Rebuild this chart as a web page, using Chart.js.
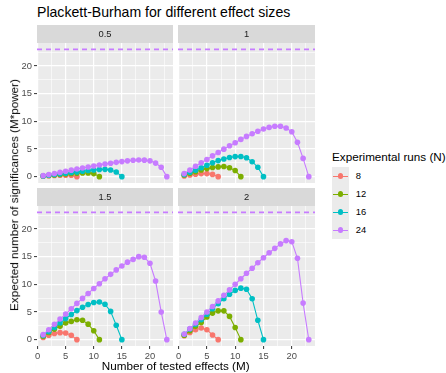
<!DOCTYPE html>
<html>
<head>
<meta charset="utf-8">
<title>Plackett-Burham for different effect sizes</title>
<script src="https://cdn.jsdelivr.net/npm/chart.js@4.4.0/dist/chart.umd.min.js"></script>
<style>
    html, body { margin: 0; padding: 0; background: #fff; }
    body {
        width: 446px; height: 373px; position: relative; overflow: hidden;
        font-family: "Liberation Sans", Arial, sans-serif;
    }
    canvas { position: absolute; }
    #panel-05  { left: 0;     top: 25px;  }
    #panel-1   { left: 173px; top: 25px;  }
    #panel-15  { left: 0;     top: 188px; }
    #panel-2   { left: 173px; top: 188px; }
    .plot-title {
        position: absolute; left: 37px; top: 5.3px;
        font-size: 14.1px; line-height: 1; color: #000; white-space: nowrap;
    }
    .x-title {
        position: absolute; left: 175.7px; top: 360.3px; transform: translateX(-50%);
        font-size: 11.7px; line-height: 1; color: #000; white-space: nowrap;
    }
    .y-title {
        position: absolute; left: 13.5px; top: 194.5px;
        transform: translate(-50%, -50%) rotate(-90deg);
        font-size: 11.7px; line-height: 1; color: #000; white-space: nowrap;
    }
    .legend { position: absolute; left: 332px; top: 151.2px; }
    .legend-title { font-size: 11.7px; line-height: 1; color: #000; white-space: nowrap; height: 16px; }
    .legend-item { display: flex; align-items: center; height: 18px; }
    .legend-key { position: relative; width: 17.3px; height: 18px; background: #EBEBEB; }
    .legend-key .kline { position: absolute; left: 1px; right: 1px; top: 8.5px; height: 1.1px; }
    .legend-key .kdot { position: absolute; left: 5.9px; top: 6.2px; width: 5.6px; height: 5.6px; border-radius: 50%; }
    .legend-label { margin-left: 6.5px; font-size: 9.4px; line-height: 1; color: #000; }
</style>
</head>
<body>
<div class="plot-title">Plackett-Burham for different effect sizes</div>
<canvas id="panel-05" width="173" height="158"></canvas>
<canvas id="panel-1" width="142" height="158"></canvas>
<canvas id="panel-15" width="173" height="172"></canvas>
<canvas id="panel-2" width="142" height="172"></canvas>
<div class="y-title">Expected number of significances (M*power)</div>
<div class="x-title">Number of tested effects (M)</div>
<div class="legend" id="legend"></div>

<script>
// ค่าที่อ่านจากภาพ: จำนวนผลที่ทดสอบ (M) และค่าคาดหมาย M*power
const effectSizes = ["0.5", "1", "1.5", "2"];
const runSizes = [8, 12, 16, 24];
const runColors = ["#F8766D", "#7CAE00", "#00BFC4", "#C77CFF"];

const testedFor8 = [1, 2, 3, 4, 5, 6, 7];
const testedFor12 = [1, 2, 3, 4, 5, 6, 7, 8, 9, 10, 11];
const testedFor16 = [1, 2, 3, 4, 5, 6, 7, 8, 9, 10, 11, 12, 13, 14, 15];
const testedFor24 = [1, 2, 3, 4, 5, 6, 7, 8, 9, 10, 11, 12, 13, 14, 15, 16, 17, 18, 19, 20, 21, 22, 23];

// effect size 0.5
const sig05n8 = [0.08, 0.15, 0.2, 0.25, 0.27, 0.24, 0];
const sig05n12 = [0.1, 0.2, 0.3, 0.4, 0.48, 0.56, 0.62, 0.66, 0.66, 0.55, 0];
const sig05n16 = [0.12, 0.25, 0.38, 0.5, 0.62, 0.74, 0.86, 0.98, 1.1, 1.2, 1.3, 1.32, 1.2, 0.85, 0];
const sig05n24 = [0.18, 0.37, 0.57, 0.77, 0.97, 1.17, 1.37, 1.56, 1.75, 1.93, 2.1, 2.27, 2.43, 2.58, 2.72, 2.85, 2.95, 3.0, 2.98, 2.85, 2.45, 1.7, 0];

// effect size 1
const sig1n8 = [0.12, 0.3, 0.45, 0.55, 0.55, 0.4, 0];
const sig1n12 = [0.3, 0.6, 0.9, 1.2, 1.45, 1.64, 1.76, 1.82, 1.6, 1.1, 0];
const sig1n16 = [0.4, 0.8, 1.15, 1.6, 2.05, 2.5, 2.9, 3.2, 3.45, 3.62, 3.64, 3.4, 2.7, 1.7, 0];
const sig1n24 = [0.55, 1.2, 1.88, 2.5, 3.1, 3.76, 4.36, 4.97, 5.58, 6.12, 6.73, 7.27, 7.76, 8.2, 8.6, 8.9, 9.1, 9.1, 8.8, 8.1, 6.2, 3.3, 0];

// effect size 1.5
const sig15n8 = [0.4, 0.8, 1.1, 1.26, 1.2, 0.8, 0];
const sig15n12 = [0.6, 1.3, 1.9, 2.4, 3.0, 3.3, 3.6, 3.5, 2.8, 1.6, 0];
const sig15n16 = [0.75, 1.45, 2.2, 3.0, 3.8, 4.55, 5.25, 5.85, 6.35, 6.7, 6.8, 6.4, 5.1, 2.6, 0];
const sig15n24 = [0.9, 1.8, 2.76, 3.72, 4.62, 5.58, 6.55, 7.45, 8.35, 9.25, 10.1, 11.0, 11.8, 12.6, 13.3, 14.0, 14.5, 15.0, 14.9, 13.8, 10.6, 5.0, 0];

// effect size 2
const sig2n8 = [0.7, 1.3, 1.8, 2.1, 1.8, 0.84, 0];
const sig2n12 = [0.8, 1.6, 2.4, 3.1, 4.1, 4.8, 5.2, 5.2, 4.2, 2.2, 0];
const sig2n16 = [0.96, 1.9, 2.76, 3.6, 4.6, 5.6, 6.5, 7.4, 8.2, 8.9, 9.3, 9.1, 7.4, 3.5, 0];
const sig2n24 = [1.0, 2.0, 3.0, 4.0, 5.0, 6.0, 7.0, 8.0, 9.0, 10.0, 11.0, 12.0, 12.9, 13.9, 14.8, 15.7, 16.5, 17.3, 17.9, 17.7, 14.7, 6.6, 0];

// เส้นประอ้างอิง (M สูงสุด)
const refLineValue = 23;

// แกน
const xLimits = [-0.1, 24.1];
const yLimits = [-1.15, 24.15];
const xMajorTicks = [0, 5, 10, 15, 20];
const xMinorTicks = [2.5, 7.5, 12.5, 17.5, 22.5];
const yMajorTicks = [0, 5, 10, 15, 20];
const yMinorTicks = [2.5, 7.5, 12.5, 17.5, 22.5];

const testedByRun = [testedFor8, testedFor12, testedFor16, testedFor24];
const FONT = '"Liberation Sans", Arial, sans-serif';

document.addEventListener("DOMContentLoaded", () => {
    buildPanel("panel-05", effectSizes[0], [sig05n8, sig05n12, sig05n16, sig05n24], true, false);
    buildPanel("panel-1", effectSizes[1], [sig1n8, sig1n12, sig1n16, sig1n24], false, false);
    buildPanel("panel-15", effectSizes[2], [sig15n8, sig15n12, sig15n16, sig15n24], true, true);
    buildPanel("panel-2", effectSizes[3], [sig2n8, sig2n12, sig2n16, sig2n24], false, true);
    buildLegend();
});

// พื้นหลังแผง, แถบหัว facet และเส้นประ
const panelDecor = {
    id: "panelDecor",
    beforeDraw(chart, args, opts) {
        const { ctx, chartArea: a } = chart;
        ctx.save();
        ctx.fillStyle = "#EBEBEB";
        ctx.fillRect(a.left, a.top, a.right - a.left, a.bottom - a.top);
        ctx.fillStyle = "#D9D9D9";
        ctx.fillRect(a.left, 0, a.right - a.left, a.top);
        ctx.fillStyle = "#1A1A1A";
        ctx.font = "9.4px " + FONT;
        ctx.textAlign = "center";
        ctx.textBaseline = "middle";
        ctx.fillText(opts.text, (a.left + a.right) / 2, a.top / 2 + 0.5);
        ctx.restore();
    },
    beforeDatasetsDraw(chart, args, opts) {
        const { ctx, chartArea: a, scales } = chart;
        const py = scales.y.getPixelForValue(opts.refValue);
        ctx.save();
        ctx.strokeStyle = "#C77CFF";
        ctx.lineWidth = 1.6;
        ctx.setLineDash([5, 4]);
        ctx.beginPath();
        ctx.moveTo(a.left, py);
        ctx.lineTo(a.right, py);
        ctx.stroke();
        ctx.restore();
    }
};

function buildPanel(canvasId, label, seriesValues, showY, showX) {
    const datasets = runSizes.map((n, i) => ({
        label: String(n),
        data: testedByRun[i].map((m, j) => ({ x: m, y: seriesValues[i][j] })),
        borderColor: runColors[i],
        backgroundColor: runColors[i],
        borderWidth: 1.1,
        pointRadius: 2.8,
        pointBorderWidth: 0,
        pointHoverRadius: 2.8,
        tension: 0,
        order: runSizes.length - i
    }));

    const isMajorX = v => xMajorTicks.includes(v);
    const isMajorY = v => yMajorTicks.includes(v);

    new Chart(document.getElementById(canvasId), {
        type: "line",
        data: { datasets },
        options: {
            responsive: false,
            animation: false,
            events: [],
            layout: {
                autoPadding: false,
                padding: { top: 18, left: showY ? 0 : 5, right: 0, bottom: 0 }
            },
            plugins: {
                legend: { display: false },
                tooltip: { enabled: false },
                panelDecor: { text: label, refValue: refLineValue }
            },
            scales: {
                x: {
                    type: "linear",
                    bounds: "data",
                    min: xLimits[0],
                    max: xLimits[1],
                    afterBuildTicks: s => { s.ticks = xMajorTicks.concat(xMinorTicks).sort((a, b) => a - b).map(v => ({ value: v })); },
                    afterFit: s => { s.height = showX ? 14 : 0; s.paddingLeft = 0; s.paddingRight = 0; },
                    border: { display: false },
                    grid: {
                        color: "#FFFFFF",
                        lineWidth: ctx => isMajorX(ctx.tick.value) ? 1.2 : 0.6,
                        drawTicks: showX,
                        tickLength: 3,
                        tickWidth: 1,
                        tickColor: ctx => isMajorX(ctx.tick.value) ? "#333333" : "rgba(0,0,0,0)"
                    },
                    ticks: {
                        display: showX,
                        autoSkip: false,
                        maxRotation: 0,
                        padding: 2,
                        color: "#4D4D4D",
                        font: { size: 9.4, family: FONT },
                        callback: v => isMajorX(v) ? String(v) : ""
                    }
                },
                y: {
                    type: "linear",
                    bounds: "data",
                    min: yLimits[0],
                    max: yLimits[1],
                    afterBuildTicks: s => { s.ticks = yMajorTicks.concat(yMinorTicks).sort((a, b) => a - b).map(v => ({ value: v })); },
                    afterFit: s => { s.width = showY ? 37 : 0; s.paddingTop = 0; s.paddingBottom = 0; },
                    border: { display: false },
                    grid: {
                        color: "#FFFFFF",
                        lineWidth: ctx => isMajorY(ctx.tick.value) ? 1.2 : 0.6,
                        drawTicks: showY,
                        tickLength: 3,
                        tickWidth: 1,
                        tickColor: ctx => isMajorY(ctx.tick.value) ? "#333333" : "rgba(0,0,0,0)"
                    },
                    ticks: {
                        display: showY,
                        autoSkip: false,
                        padding: 2,
                        color: "#4D4D4D",
                        font: { size: 9.4, family: FONT },
                        callback: v => isMajorY(v) ? String(v) : ""
                    }
                }
            }
        },
        plugins: [panelDecor]
    });
}

function buildLegend() {
    const box = document.getElementById("legend");
    const title = document.createElement("div");
    title.className = "legend-title";
    title.textContent = "Experimental runs (N)";
    box.appendChild(title);
    runSizes.forEach((n, i) => {
        const item = document.createElement("div");
        item.className = "legend-item";
        item.innerHTML =
            `<span class="legend-key"><i class="kline" style="background:${runColors[i]}"></i>` +
            `<i class="kdot" style="background:${runColors[i]}"></i></span>` +
            `<span class="legend-label">${n}</span>`;
        box.appendChild(item);
    });
}
</script>
</body>
</html>
